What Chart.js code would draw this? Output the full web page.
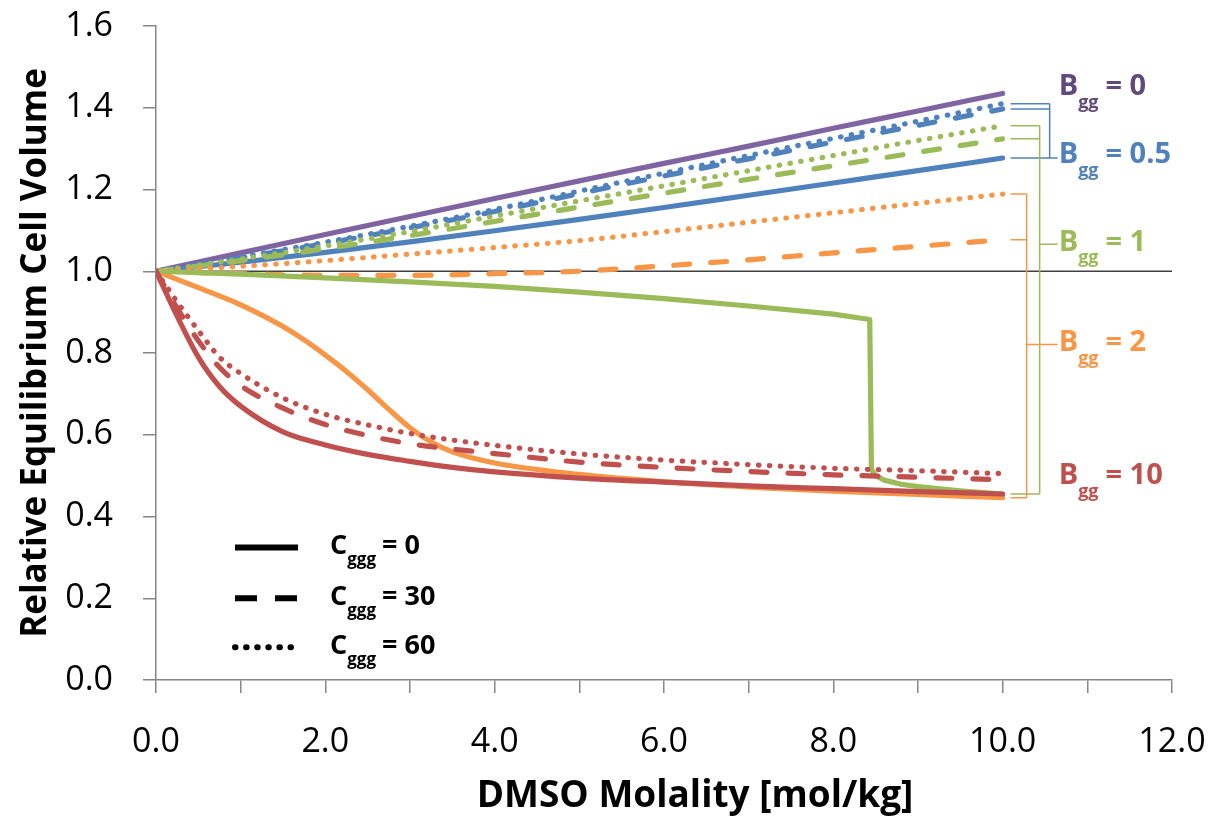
<!DOCTYPE html>
<html><head><meta charset="utf-8">
<script src="https://cdn.jsdelivr.net/npm/chart.js@4/dist/chart.umd.min.js"></script>
<style>html,body{margin:0;padding:0;background:#fff}#wrap{width:1223px;height:820px}</style>
</head><body><div id="wrap"><canvas id="c" width="1223" height="820"></canvas></div>
<script>
// ---- data ----
const molalityLine   = [0,1,2,3,4,5,6,7,8,9,10];
const molalityCurve  = [0,0.25,0.5,0.75,1,1.5,2,2.5,3,3.5,4,5,6,7,8,9,10];
const molalityOrange = [0,0.5,1,1.5,1.75,2,2.25,2.5,2.75,3,3.25,3.5,4,5,6,7,8,9,10];
const molalityStep   = [0,1,2,3,4,5,6,7,8,8.43,8.45,8.5,8.6,8.8,9,9.5,10];
const refX = [0,12];
const refY = [1,1];

const bgg0      = [1,1.045,1.09,1.134,1.178,1.221,1.264,1.306,1.35,1.392,1.435];
const bgg05_c0  = [1,1.022,1.046,1.072,1.099,1.127,1.156,1.186,1.216,1.246,1.277];
const bgg05_c30 = [1,1.033,1.068,1.106,1.146,1.19,1.233,1.275,1.316,1.357,1.397];
const bgg05_c60 = [1,1.035,1.071,1.11,1.151,1.196,1.24,1.283,1.325,1.367,1.41];
const bgg1_c0   = [1,0.993,0.984,0.974,0.963,0.949,0.933,0.915,0.895,0.882,0.515,0.5,0.489,0.479,0.473,0.463,0.455];
const bgg1_c30  = [1,1.026,1.055,1.087,1.122,1.157,1.191,1.225,1.258,1.291,1.324];
const bgg1_c60  = [1,1.03,1.062,1.097,1.135,1.172,1.209,1.246,1.283,1.32,1.356];
const bgg2_c0   = [1,0.96,0.918,0.865,0.832,0.795,0.755,0.71,0.662,0.617,0.582,0.558,0.531,0.503,0.485,0.472,0.462,0.454,0.446];
const bgg2_c30  = [1,0.994,0.99,0.99,0.994,1.0,1.013,1.028,1.045,1.061,1.077];
const bgg2_c60  = [1,1.012,1.026,1.042,1.058,1.075,1.097,1.12,1.143,1.166,1.189];
const bgg10_c0  = [1,0.89,0.79,0.718,0.67,0.607,0.575,0.552,0.535,0.52,0.509,0.494,0.484,0.475,0.468,0.461,0.455];
const bgg10_c30 = [1,0.91,0.83,0.765,0.72,0.665,0.625,0.598,0.578,0.565,0.554,0.533,0.52,0.51,0.502,0.496,0.49];
const bgg10_c60 = [1,0.925,0.855,0.79,0.75,0.69,0.65,0.624,0.603,0.587,0.574,0.553,0.538,0.527,0.518,0.512,0.505];

const xTickValues = [0,1,2,3,4,5,6,7,8,9,10,11,12];
const yTickValues = [0,0.2,0.4,0.6,0.8,1.0,1.2,1.4,1.6];
const bggLabels = ['0','0.5','1','2','10'];
const cgggLabels = ['0','30','60'];
const xTitle = 'DMSO Molality [mol/kg]';
const yTitle = 'Relative Equilibrium Cell Volume';

// ---- styling ----
const COL = {purple:'#8064A2', blue:'#4F81BD', green:'#9BBB59', orange:'#F79646', red:'#C0504D'};
const FONT = 'Open Sans';
const LW = 5.2;
const DASH = [16,21];
const DOT = [0.5,10.4];

function pts(xs, ys){ return xs.map((x,i)=>({x:x, y:ys[i]})); }
function ds(xs, ys, color, dash, straight){
  const d = {data:pts(xs,ys), borderColor:color, backgroundColor:color, borderWidth:LW,
    borderDash:dash||[], borderCapStyle:'round', borderJoinStyle:'round',
    pointRadius:0, showLine:true, fill:false};
  if (straight) { d.tension = 0; } else { d.cubicInterpolationMode = 'monotone'; }
  return d;
}

function drawSub(ctx, x0, yc, main, sub, rest, color, big, small, subOff, gap){
  ctx.fillStyle = color; ctx.textBaseline = 'middle'; ctx.textAlign = 'left';
  ctx.font = 'bold ' + big + 'px "' + FONT + '"';
  ctx.fillText(main, x0, yc);
  let x = x0 + ctx.measureText(main).width;
  ctx.font = 'bold ' + small + 'px "' + FONT + '"';
  ctx.fillText(sub, x, yc + subOff);
  x += ctx.measureText(sub).width + gap;
  ctx.font = 'bold ' + big + 'px "' + FONT + '"';
  ctx.fillText(rest, x, yc);
}

const annot = {
  id:'annot',
  afterDatasetsDraw(chart){
    const ctx = chart.ctx, xs = chart.scales.x, ys = chart.scales.y;
    const xe = xs.getPixelForValue(10);
    const last = a => ys.getPixelForValue(a[a.length-1]);
    ctx.save();
    ctx.lineWidth = 1.5;
    function bracket(color, ends, off, connVal){
      ctx.strokeStyle = color;
      ctx.beginPath();
      ends.forEach(p => { ctx.moveTo(xe+8, p); ctx.lineTo(xe+off, p); });
      ctx.moveTo(xe+off, Math.min.apply(null, ends));
      ctx.lineTo(xe+off, Math.max.apply(null, ends));
      const cy = ys.getPixelForValue(connVal);
      ctx.moveTo(xe+off, cy); ctx.lineTo(xe+55, cy);
      ctx.stroke();
    }
    bracket(COL.blue,   [last(bgg05_c60), last(bgg05_c30), last(bgg05_c0)], 47, bgg05_c0[bgg05_c0.length-1]);
    bracket(COL.green,  [last(bgg1_c60), last(bgg1_c30), last(bgg1_c0)], 37, 1.066);
    bracket(COL.orange, [last(bgg2_c60), last(bgg2_c30), last(bgg2_c0)], 24, 0.821);

    const lx = xe + 56;
    const labelVals = [1.447, 1.279, 1.066, 0.821, 0.494];
    const labelCols = ['#604A7B', COL.blue, COL.green, COL.orange, COL.red];
    bggLabels.forEach((t,i)=>{
      drawSub(ctx, lx, ys.getPixelForValue(labelVals[i]) - 2, 'B', 'gg', '= ' + t, labelCols[i], 29, 18, 16, 7);
    });

    // line-style legend
    const x0 = xs.getPixelForValue(0);
    const legVals = [0.324, 0.2, 0.08];
    const legDash = [[], [22,18], [0.5,10.6]];
    legVals.forEach((v,i)=>{
      const yy = ys.getPixelForValue(v);
      ctx.strokeStyle = '#000'; ctx.lineWidth = 6;
      ctx.lineCap = i===2 ? 'round' : 'butt';
      ctx.setLineDash(legDash[i]);
      ctx.beginPath(); ctx.moveTo(x0+79, yy); ctx.lineTo(x0+142, yy); ctx.stroke();
      ctx.setLineDash([]);
      drawSub(ctx, x0+174, yy - 1, 'C', 'ggg', '= ' + cgggLabels[i], '#000', 27, 17, 14, 6);
    });

    // x-axis title (Excel places it slightly right of the plot centre)
    const ca = chart.chartArea;
    ctx.fillStyle = '#000'; ctx.textAlign = 'center'; ctx.textBaseline = 'middle';
    ctx.font = 'bold 37px "' + FONT + '"';
    ctx.fillText(xTitle, (ca.left + ca.right) / 2 + 31, chart.height - 24);
    ctx.restore();
  }
};

const datasets = [
  ds(molalityCurve, bgg10_c0, COL.red),
  ds(molalityCurve, bgg10_c30, COL.red, DASH),
  ds(molalityCurve, bgg10_c60, COL.red, DOT),
  ds(molalityStep, bgg1_c0, COL.green, null, true),
  ds(molalityOrange, bgg2_c0, COL.orange),
  ds(molalityLine, bgg2_c30, COL.orange, DASH),
  ds(molalityLine, bgg2_c60, COL.orange, DOT),
  ds(molalityLine, bgg1_c30, COL.green, DASH),
  ds(molalityLine, bgg1_c60, COL.green, DOT),
  ds(molalityLine, bgg05_c0, COL.blue),
  ds(molalityLine, bgg05_c30, COL.blue, DASH),
  ds(molalityLine, bgg05_c60, COL.blue, DOT),
  ds(molalityLine, bgg0, COL.purple),
  {data:pts(refX, refY), borderColor:'#404040', borderWidth:1.3, pointRadius:0, showLine:true, fill:false}
];

new Chart(document.getElementById('c'), {
  type:'scatter',
  data:{datasets:datasets},
  options:{
    responsive:false, animation:false, devicePixelRatio:1,
    layout:{padding:{top:26, right:51, bottom:0, left:0}},
    plugins:{legend:{display:false}, tooltip:{enabled:false}},
    scales:{
      x:{type:'linear', min:0, max:12,
        afterFit:s=>{ s.height = 140; s.paddingLeft = 0; s.paddingRight = 0; },
        afterBuildTicks:s=>{ s.ticks = xTickValues.map(v=>({value:v})); },
        ticks:{autoSkip:false, maxRotation:0, color:'#000', padding:29,
          font:{family:FONT, size:34},
          callback:v=> (v % 2 === 0 ? v.toFixed(1) : '')},
        grid:{drawOnChartArea:false, drawTicks:true, tickLength:13, color:'#868686', lineWidth:1.5},
        border:{display:true, color:'#868686', width:1.5},
        title:{display:false}
      },
      y:{min:0, max:1.6,
        afterFit:s=>{ s.width = 156; s.paddingTop = 0; s.paddingBottom = 0; },
        afterBuildTicks:s=>{ s.ticks = yTickValues.map(v=>({value:v})); },
        ticks:{color:'#000', padding:30, font:{family:FONT, size:34},
          callback:v=> Number(v).toFixed(1)},
        grid:{drawOnChartArea:false, drawTicks:true, tickLength:13, color:'#868686', lineWidth:1.5},
        border:{display:true, color:'#868686', width:1.5},
        title:{display:true, text:yTitle, color:'#000',
          font:{family:FONT, size:35, weight:'bold'}, padding:{top:15, bottom:0}}
      }
    }
  },
  plugins:[annot]
});
</script>
</body></html>
